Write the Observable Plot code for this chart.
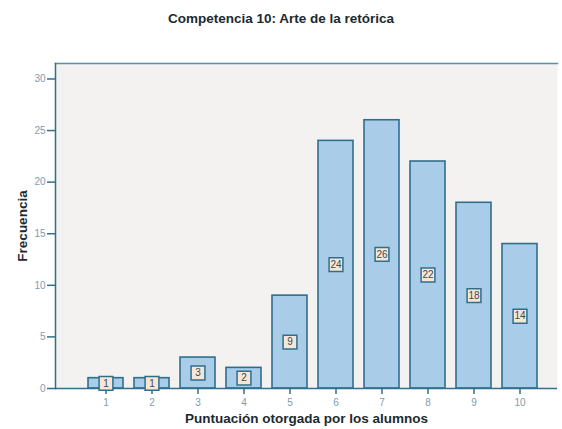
<!DOCTYPE html>
<html>
<head>
<meta charset="utf-8">
<script src="https://cdn.jsdelivr.net/npm/d3@7"></script>
<script src="https://cdn.jsdelivr.net/npm/@observablehq/plot@0.6"></script>
<style>
  html, body { margin: 0; padding: 0; background: #ffffff; }
  body { width: 562px; height: 429px; overflow: hidden; font-family: "Liberation Sans", Arial, sans-serif; }
  #title { height: 38px; line-height: 38px; text-align: center; font-weight: bold; font-size: 13.5px; color: #1c2a30; }
  svg [aria-label="y-axis label"] text, svg [aria-label="x-axis label"] text,
  svg [aria-label="y-axis label"], svg [aria-label="x-axis label"] { font-weight: bold; font-size: 13.5px; fill: #1c2a30; }
</style>
</head>
<body>
<div id="title">Competencia 10: Arte de la retórica</div>
<div id="chart"></div>
<script>
const categories = [1, 2, 3, 4, 5, 6, 7, 8, 9, 10];
const frequencies = [1, 1, 3, 2, 9, 24, 26, 22, 18, 14];
const yTicks = [0, 5, 10, 15, 20, 25, 30];
const xLabel = "Puntuación otorgada por los alumnos";
const yLabel = "Frecuencia";

const data = categories.map((c, i) => ({cat: c, freq: frequencies[i]}));

const axisColor = "#2f6f8c";
const chart = Plot.plot({
  width: 562,
  height: 391,
  marginTop: 25,
  marginLeft: 55,
  marginRight: 5,
  marginBottom: 41,
  style: {fontFamily: "'Liberation Sans', Arial, sans-serif", fontSize: "10px", background: "transparent"},
  x: {type: "band", domain: categories, range: [85, 541], paddingInner: 0.229, paddingOuter: 0},
  y: {domain: [0, 31.5]},
  marks: [
    Plot.frame({fill: "#f3f2f1", stroke: null}),
    Plot.frame({anchor: "top", stroke: "#5a8fa6", strokeWidth: 1.5}),
    Plot.frame({anchor: "left", stroke: axisColor, strokeWidth: 1.5}),
    Plot.barY(data, {x: "cat", y: "freq", fill: "#a9cde9", stroke: axisColor, strokeWidth: 1.6}),
    Plot.ruleY([0], {stroke: axisColor, strokeWidth: 1.5}),
    Plot.axisY({ticks: yTicks, tickSize: 8, tickPadding: 2, stroke: axisColor, strokeWidth: 1.5, color: "#7f9bb0",
      label: yLabel, labelAnchor: "center", labelOffset: 38, labelArrow: "none"}),
    Plot.axisX({tickSize: 6, tickPadding: 4, stroke: axisColor, strokeWidth: 1.5, color: "#7f9bb0",
      label: xLabel, labelAnchor: "center", labelOffset: 34, labelArrow: "none"}),
    Plot.dot(data, {x: "cat", y: d => d.freq / 2, symbol: "square", r: 7.8, fill: "#f6e6d6", stroke: axisColor, strokeWidth: 1.5}),
    Plot.text(data, {x: "cat", y: d => d.freq / 2, text: d => String(d.freq), fill: "#3a4a55", fontSize: 10})
  ]
});
document.getElementById("chart").appendChild(chart);
</script>
</body>
</html>
